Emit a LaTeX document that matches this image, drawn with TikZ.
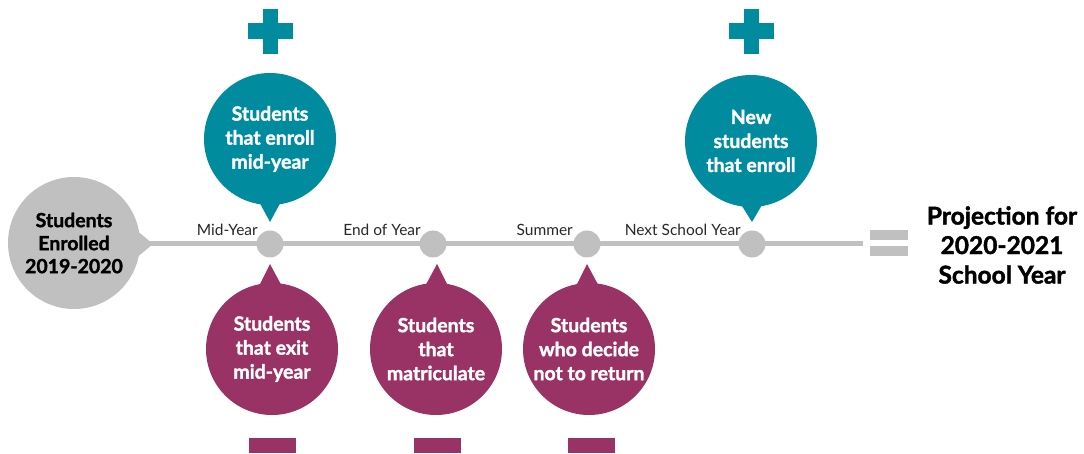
\documentclass[tikz,border=0pt]{standalone}
\usepackage{fontspec}
\setmainfont{Lato}[BoldFeatures={FakeBold=1.6}]
\definecolor{tealc}{RGB}{0,139,158}
\definecolor{plum}{RGB}{153,51,102}
\definecolor{lineg}{RGB}{192,192,192}
\definecolor{labelc}{RGB}{40,40,40}
\begin{document}
\begin{tikzpicture}[x=1pt,y=-1pt,
  bubble/.style={circle,minimum size=132pt,inner sep=0pt,align=center,
    font=\bfseries\fontsize{19.5}{24}\selectfont},
  upbubble/.style={bubble,fill=tealc,text=white},
  downbubble/.style={bubble,fill=plum,text=white},
  startbubble/.style={bubble,fill=lineg,text=black,font=\bfseries\fontsize{19.5}{23}\selectfont},
  dot/.style={circle,fill=lineg,minimum size=27pt,inner sep=0pt},
  tick/.style={anchor=east,text=labelc,inner sep=0pt,font=\fontsize{15.5}{16}\selectfont},
  plus/.style={fill=tealc},
  minus/.style={fill=plum,minimum width=47pt,minimum height=15pt,inner sep=0pt},
  eqbar/.style={fill=lineg,minimum width=38pt,minimum height=10pt,inner sep=0pt}]
\useasboundingbox (0,0) rectangle (1084,454);

% timeline
\coordinate (lineend) at (863,244);
\node[startbubble] (start) at (74,243) {Students\\Enrolled\\2019-2020};
\fill[lineg] (135,229) -- (153,244) -- (135,259) -- cycle;
\draw[lineg,line width=5pt] (150,244) -- (lineend);

\node[dot] (d1) at (270,244) {};
\node[dot] (d2) at (433,244) {};
\node[dot] (d3) at (587,244) {};
\node[dot] (d4) at (752,244) {};

\node[tick] (t1) at (258,230) {Mid-Year};
\node[tick] (t2) at (421,230) {End of Year};
\node[tick] (t3) at (573,230) {Summer};
\node[tick] (t4) at (741,230) {Next School Year};

% additions above the line
\node[upbubble] (u1) at (270,139) {Students\\that enroll\\mid-year};
\fill[tealc] (256,196) -- (270,222) -- (284,196) -- cycle;
\node[upbubble] (u2) at (751,141) {New\\students\\that enroll};
\fill[tealc] (737,198) -- (752,222) -- (766,198) -- cycle;

\foreach \x/\n in {270/p1,751/p2}{
  \node[plus,minimum width=45pt,minimum height=16pt,inner sep=0pt] (\n h) at (\x,31.5) {};
  \node[plus,minimum width=15pt,minimum height=45pt,inner sep=0pt] (\n v) at (\x,31.5) {};
}

% subtractions below the line
\node[downbubble] (b1) at (272,349) {Students\\that exit\\mid-year};
\fill[plum] (256,292) -- (270,264) -- (285,292) -- cycle;
\node[downbubble] (b2) at (436,349) {Students\\that\\matriculate};
\fill[plum] (422,292) -- (437,264) -- (451,292) -- cycle;
\node[downbubble] (b3) at (589,349) {Students\\who decide\\not to return};
\fill[plum] (573,292) -- (587,264) -- (602,292) -- cycle;

\node[minus] (m1) at (272,445.5) {};
\node[minus] (m2) at (437,445.5) {};
\node[minus] (m3) at (591,445.5) {};

% result
\node[eqbar] (e1) at (889,235) {};
\node[eqbar] (e2) at (889,251.5) {};
\node[align=center,inner sep=0pt,font=\bfseries\fontsize{24.5}{29.5}\selectfont] (proj) at (1002,245)
  {Projection for\\2020-2021\\School Year};
\end{tikzpicture}
\end{document}
